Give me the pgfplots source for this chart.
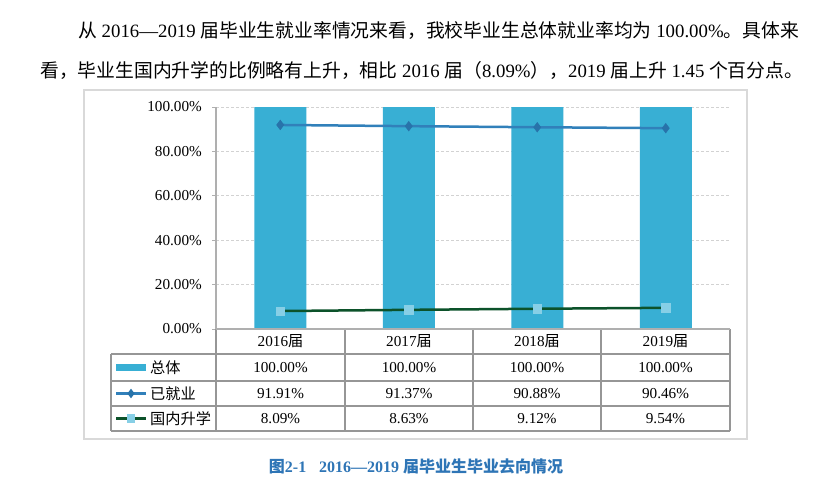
\documentclass[border=0pt]{standalone}
\usepackage{pgfplots}
\pgfplotsset{compat=1.18}
\usepackage{fontspec}
\setmainfont{Liberation Serif}
\newfontfamily\cjk{Noto Sans CJK SC}
\newcommand{\zh}[1]{{\cjk #1}}
\definecolor{barblue}{RGB}{56,175,212}
\definecolor{lineblue}{RGB}{49,128,186}
\definecolor{markblue}{RGB}{40,115,170}
\definecolor{darkgreen}{RGB}{12,82,42}
\definecolor{lightsq}{RGB}{135,207,230}
\definecolor{framegray}{RGB}{217,217,217}
\definecolor{tablegray}{RGB}{150,150,150}
\definecolor{axisgray}{RGB}{175,175,175}
\definecolor{capblue}{RGB}{46,117,182}
\begin{document}
\begin{tikzpicture}[x=1pt,y=1pt]
\fill[white] (0,0) rectangle (813,488);
% paragraph
\node[anchor=base west, inner sep=0pt, font=\fontsize{18.8}{22}\selectfont] at (78,488-38)
  {\zh{从} 2016—2019 \zh{届毕业生就业率情况来看，我校毕业生总体就业率均为} 100.00\%\zh{。具体来}};
\node[anchor=base west, inner sep=0pt, font=\fontsize{18.8}{22}\selectfont] at (40,488-78)
  {\zh{看，毕业生国内升学的比例略有上升，相比} 2016 \zh{届（}8.09\%\zh{），}2019 \zh{届上升} 1.45 \zh{个百分点。}};
% chart frame
\draw[framegray, line width=1.5pt] (84,488-90) rectangle (747,488-439);
\begin{axis}[
  at={(216pt,159pt)}, anchor=south west,
  width=514pt, height=222pt, scale only axis,
  xmin=0.5, xmax=4.5, ymin=0, ymax=100,
  xtick=\empty,
  ytick={0,20,40,60,80,100},
  yticklabels={0.00\%,20.00\%,40.00\%,60.00\%,80.00\%,100.00\%},
  axis x line*=bottom, axis y line*=left,
  axis line style={draw=axisgray, line width=1.5pt, -},
  ytick style={draw=axisgray, line width=1pt},
  tick align=outside, major tick length=4pt,
  ymajorgrids,
  grid style={draw=gray!35, dash pattern=on 3pt off 2pt, line width=0.8pt},
  yticklabel style={font=\fontsize{15.2}{18}\selectfont, inner sep=0pt, xshift=-10pt},
  /pgf/number format/assume math mode=true,
  clip=false]
\addplot[ybar, bar width=52pt, bar shift=0pt, fill=barblue, draw=none]
  coordinates {(1,100) (2,100) (3,100) (4,100)};
\addplot[lineblue, line width=2.5pt, mark=diamond*, mark size=4.8pt,
  mark options={fill=markblue, draw=markblue, line width=0.5pt}]
  coordinates {(1,91.91) (2,91.37) (3,90.88) (4,90.46)};
\addplot[darkgreen, line width=2.5pt, mark=square*, mark size=4.2pt,
  mark options={fill=lightsq, draw=lightsq, line width=0.3pt}]
  coordinates {(1,8.09) (2,8.63) (3,9.12) (4,9.54)};
\end{axis}
% data table
\begin{scope}[tablegray, line width=1.2pt]
\draw (111,488-354) -- (730,488-354);
\draw (111,488-381) -- (730,488-381);
\draw (111,488-406) -- (730,488-406);
\draw (111,488-431) -- (730,488-431);
\draw (111,488-354) -- (111,488-431);
\foreach \xx in {216,345,473,601,730} \draw (\xx,488-329) -- (\xx,488-431);
\end{scope}
\draw[axisgray, line width=1.5pt] (216,488-329) -- (730,488-329);
\begin{scope}[every node/.style={font=\fontsize{15.2}{18}\selectfont, inner sep=0pt}]
\node at (280.5,488-341.5) {2016\zh{届}};
\node at (409,488-341.5) {2017\zh{届}};
\node at (537,488-341.5) {2018\zh{届}};
\node at (665.5,488-341.5) {2019\zh{届}};
\node at (280.5,488-367.5) {100.00\%};
\node at (409,488-367.5) {100.00\%};
\node at (537,488-367.5) {100.00\%};
\node at (665.5,488-367.5) {100.00\%};
\node at (280.5,488-393.5) {91.91\%};
\node at (409,488-393.5) {91.37\%};
\node at (537,488-393.5) {90.88\%};
\node at (665.5,488-393.5) {90.46\%};
\node at (280.5,488-418.5) {8.09\%};
\node at (409,488-418.5) {8.63\%};
\node at (537,488-418.5) {9.12\%};
\node at (665.5,488-418.5) {9.54\%};
\node[anchor=west] at (150,488-367.5) {\zh{总体}};
\node[anchor=west] at (150,488-393.5) {\zh{已就业}};
\node[anchor=west] at (150,488-418.5) {\zh{国内升学}};
\end{scope}
% legend icons
\fill[barblue] (116,488-364) rectangle (146,488-371);
\draw[lineblue, line width=2.5pt] (116,488-393.5) -- (146,488-393.5);
\fill[markblue] (131,488-393.5) +(-3.6,0) -- +(0,4.8) -- +(3.6,0) -- +(0,-4.8) -- cycle;
\draw[darkgreen, line width=2.5pt] (116,488-418.5) -- (146,488-418.5);
\fill[lightsq] (131,488-418.5) +(-4.2,-4.2) rectangle +(4.2,4.2);
% caption
\node[font=\fontsize{16}{19}\selectfont\bfseries, text=capblue, inner sep=0pt] at (416,488-466)
  {\zh{图}2-1\hspace{0.8em}2016—2019 \zh{届毕业生毕业去向情况}};
\end{tikzpicture}
\end{document}
